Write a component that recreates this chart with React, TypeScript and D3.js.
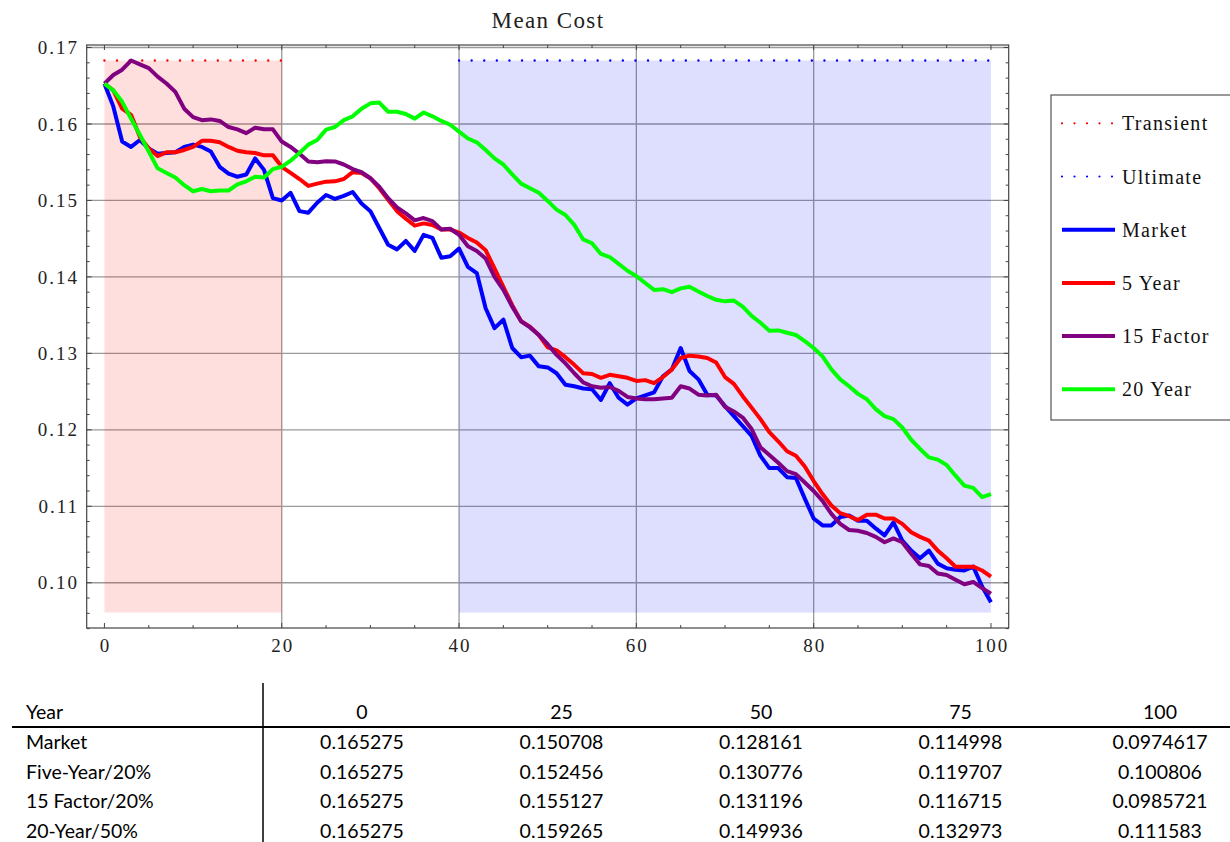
import React from "react";
import * as d3 from "d3";

// Simulation years 0..100 and the mean cost of each strategy per year
const years: number[] = d3.range(0, 101);

const market: number[] = [
  0.165275, 0.1623, 0.1577, 0.157, 0.1579, 0.1568, 0.1561, 0.1562, 0.1563, 0.157,
  0.1573, 0.157, 0.1564, 0.1544, 0.1535, 0.1531, 0.1534, 0.1555, 0.154, 0.1503,
  0.15, 0.151, 0.1486, 0.1484, 0.1497, 0.150708, 0.1502, 0.1506, 0.1511, 0.1496,
  0.1486, 0.1464, 0.1442, 0.1436, 0.1447, 0.1434, 0.1455, 0.1451, 0.1425, 0.1427,
  0.1437, 0.1413, 0.1405, 0.1359, 0.1333, 0.1344, 0.1307, 0.1295, 0.1297, 0.1283,
  0.128161, 0.1274, 0.1259, 0.1257, 0.1254, 0.1253, 0.1239, 0.1261, 0.1242, 0.1233,
  0.1241, 0.1245, 0.1249, 0.127, 0.1279, 0.1307, 0.1277, 0.1266, 0.1246, 0.1245,
  0.1231, 0.1218, 0.1205, 0.1192, 0.1166, 0.114998, 0.115, 0.1138, 0.1137, 0.111,
  0.1084, 0.1075, 0.1075, 0.1086, 0.1088, 0.1081, 0.1081, 0.1071, 0.1062, 0.1079,
  0.1055, 0.1042, 0.1032, 0.1042, 0.1025, 0.1019, 0.1017, 0.1016, 0.1021, 0.0995,
  0.0974617,
];

const fiveYear: number[] = [
  0.165275, 0.1644, 0.162, 0.1612, 0.1583, 0.1568, 0.1558, 0.1563, 0.1563, 0.1566,
  0.157, 0.1578, 0.1578, 0.1576, 0.157, 0.1565, 0.1563, 0.1562, 0.1559, 0.1559,
  0.1544, 0.1536, 0.1528, 0.1519, 0.1522, 0.152456, 0.1525, 0.1528, 0.1537, 0.1536,
  0.1529, 0.1516, 0.1501, 0.1486, 0.1476, 0.1467, 0.147, 0.1468, 0.1462, 0.1462,
  0.1458, 0.1451, 0.1445, 0.1435, 0.1411, 0.1387, 0.1363, 0.1342, 0.1335, 0.1324,
  0.130776, 0.1304, 0.1295, 0.1285, 0.1274, 0.1273, 0.1268, 0.1272, 0.127, 0.1268,
  0.1264, 0.1265, 0.1261, 0.1269, 0.1279, 0.1294, 0.1297, 0.1296, 0.1294, 0.1288,
  0.1269, 0.126, 0.1244, 0.1229, 0.1214, 0.119707, 0.1185, 0.1172, 0.1166, 0.1152,
  0.1133, 0.1116, 0.1101, 0.1091, 0.1087, 0.1082, 0.1089, 0.1089, 0.1084, 0.1084,
  0.1077, 0.1066, 0.106, 0.1055, 0.1042, 0.1032, 0.1021, 0.1021, 0.1021, 0.1016,
  0.100806,
];

const fifteenFactor: number[] = [
  0.165275, 0.1664, 0.1671, 0.1683, 0.1678, 0.1673, 0.1662, 0.1653, 0.1642, 0.162,
  0.1609, 0.1605, 0.1606, 0.1604, 0.1596, 0.1593, 0.1588, 0.1595, 0.1593, 0.1593,
  0.1577, 0.157, 0.1561, 0.1551, 0.155, 0.155127, 0.1551, 0.1547, 0.1541, 0.1537,
  0.1529, 0.1518, 0.1503, 0.1491, 0.1483, 0.1474, 0.1477, 0.1473, 0.1462, 0.1463,
  0.1455, 0.144, 0.1434, 0.1424, 0.14, 0.1383, 0.1361, 0.1342, 0.1334, 0.1324,
  0.131196, 0.1298, 0.1287, 0.1274, 0.1262, 0.1257, 0.1255, 0.1256, 0.1251, 0.1243,
  0.1241, 0.124, 0.124, 0.1241, 0.1242, 0.1257, 0.1254, 0.1246, 0.1245, 0.1246,
  0.123, 0.1224, 0.1216, 0.1201, 0.1177, 0.116715, 0.1157, 0.1146, 0.1142, 0.1131,
  0.112, 0.1107, 0.109, 0.1077, 0.1069, 0.1068, 0.1065, 0.106, 0.1053, 0.1058,
  0.1053, 0.1038, 0.1024, 0.1022, 0.1012, 0.101, 0.1004, 0.0998, 0.1001, 0.0993,
  0.0985721,
];

const twentyYear: number[] = [
  0.165275, 0.1644, 0.1629, 0.1607, 0.1586, 0.1564, 0.1542, 0.1536, 0.153, 0.152,
  0.1512, 0.1515, 0.1512, 0.1513, 0.1513, 0.1521, 0.1525, 0.1531, 0.153, 0.1541,
  0.1544, 0.1552, 0.1562, 0.1573, 0.1579, 0.159265, 0.1596, 0.1605, 0.161, 0.162,
  0.1627, 0.1628, 0.1616, 0.1616, 0.1613, 0.1607, 0.1615, 0.161, 0.1604, 0.1599,
  0.159, 0.1581, 0.1576, 0.1566, 0.1555, 0.1547, 0.1534, 0.1522, 0.1516, 0.151,
  0.149936, 0.1488, 0.1481, 0.1468, 0.1449, 0.1444, 0.143, 0.1426, 0.1417, 0.1408,
  0.1401, 0.1392, 0.1383, 0.1384, 0.138, 0.1385, 0.1387, 0.1381, 0.1375, 0.137,
  0.1368, 0.1369, 0.1361, 0.1349, 0.134, 0.132973, 0.133, 0.1327, 0.1324, 0.1316,
  0.1307, 0.1296, 0.1279, 0.1266, 0.1257, 0.1247, 0.124, 0.1227, 0.1218, 0.1214,
  0.1203, 0.1187, 0.1175, 0.1164, 0.1161, 0.1154, 0.114, 0.1127, 0.1124, 0.1112,
  0.111583,
];

// Transient (years 0-20) and ultimate (years 40-100) periods
const transientSpan: [number, number] = [0, 20];
const ultimateSpan: [number, number] = [40, 100];
const bandLevel = 0.1683;
const bandFloor = 0.0961;

// Axis ticks
const xMajor: number[] = [0, 20, 40, 60, 80, 100];
const yMajor: number[] = [0.1, 0.11, 0.12, 0.13, 0.14, 0.15, 0.16, 0.17];
const yLabels: string[] = ["0.10", "0.11", "0.12", "0.13", "0.14", "0.15", "0.16", "0.17"];
const xGrid: number[] = [20, 40, 60, 80];

// Summary table
const tableYears: number[] = [0, 25, 50, 75, 100];
const tableNames: string[] = ["Market", "Five-Year/20%", "15 Factor/20%", "20-Year/50%"];

const series = [
  { name: "Market", values: market, color: "#0000ff" },
  { name: "5 Year", values: fiveYear, color: "#ff0000" },
  { name: "15 Factor", values: fifteenFactor, color: "#800080" },
  { name: "20 Year", values: twentyYear, color: "#00ff00" },
];

const SERIF = "'Liberation Serif', 'Times New Roman', serif";
const SANS = "Lato, 'Open Sans', sans-serif";

export default function App() {
  const W = 1230;
  const H = 842;
  const frame = { left: 86.7, right: 1008.7, top: 45, bottom: 628 };

  const x = d3.scaleLinear().domain([-2, 102]).range([frame.left, frame.right]);
  const y = d3.scaleLinear().domain([0.09408, 0.17033]).range([frame.bottom, frame.top]);

  const line = d3
    .line<number>()
    .x((_, i) => x(years[i]))
    .y((d) => y(d));

  const yMinor = d3.range(47, 86).map((i) => i * 0.002);
  const xMinor = d3.range(0, 21).map((i) => i * 5);

  const legendItems = [
    { label: "Transient", color: "#ff0000", dotted: true },
    { label: "Ultimate", color: "#0000ff", dotted: true },
    ...series.map((s) => ({ label: s.name, color: s.color, dotted: false })),
  ];

  const fmt = d3.format(".6");
  const colX = d3.scaleLinear().domain([0, tableYears.length - 1]).range([362, 1160]);
  const rowY = (r: number) => 719 + r * 29.8;

  return (
    <div style={{ position: "absolute", left: 0, top: 0 }}>
      <svg width={W} height={H} style={{ display: "block", background: "#fff" }}>
        {/* title */}
        <text
          x={548}
          y={28}
          textAnchor="middle"
          fontFamily={SERIF}
          fontSize={23}
          letterSpacing={1.4}
          fill="#222"
        >
          Mean Cost
        </text>

        {/* grid lines */}
        <g stroke="#9a9a9a" strokeWidth={1.3}>
          {yMajor.map((v) => (
            <line key={"gy" + v} x1={frame.left} x2={frame.right} y1={y(v)} y2={y(v)} />
          ))}
          {xGrid.map((v) => (
            <line key={"gx" + v} x1={x(v)} x2={x(v)} y1={frame.top} y2={frame.bottom} />
          ))}
        </g>

        {/* period shading */}
        <rect
          x={x(transientSpan[0])}
          width={x(transientSpan[1]) - x(transientSpan[0])}
          y={y(bandLevel)}
          height={y(bandFloor) - y(bandLevel)}
          fill="#ff0000"
          fillOpacity={0.13}
        />
        <rect
          x={x(ultimateSpan[0])}
          width={x(ultimateSpan[1]) - x(ultimateSpan[0])}
          y={y(bandLevel)}
          height={y(bandFloor) - y(bandLevel)}
          fill="#0000ff"
          fillOpacity={0.13}
        />
        <line
          x1={x(transientSpan[0])}
          x2={x(transientSpan[1])}
          y1={y(bandLevel)}
          y2={y(bandLevel)}
          stroke="#ff0000"
          strokeWidth={2.4}
          strokeLinecap="round"
          strokeDasharray="0 12.6"
        />
        <line
          x1={x(ultimateSpan[0])}
          x2={x(ultimateSpan[1])}
          y1={y(bandLevel)}
          y2={y(bandLevel)}
          stroke="#0000ff"
          strokeWidth={2.4}
          strokeLinecap="round"
          strokeDasharray="0 12.6"
        />

        {/* series */}
        {series.map((s) => (
          <path
            key={s.name}
            d={line(s.values) || ""}
            fill="none"
            stroke={s.color}
            strokeWidth={4}
            strokeLinejoin="round"
          />
        ))}

        {/* frame and ticks */}
        <rect
          x={frame.left}
          y={frame.top}
          width={frame.right - frame.left}
          height={frame.bottom - frame.top}
          fill="none"
          stroke="#444"
          strokeWidth={1.2}
        />
        <g stroke="#444" strokeWidth={1}>
          {yMinor.map((v, i) => {
            const len = i % 5 === 3 ? 5 : 3;
            return (
              <g key={"ty" + i}>
                <line x1={frame.left} x2={frame.left + len} y1={y(v)} y2={y(v)} />
                <line x1={frame.right} x2={frame.right - len} y1={y(v)} y2={y(v)} />
              </g>
            );
          })}
          {xMinor.map((v) => {
            const len = v % 20 === 0 ? 5 : 3;
            return (
              <g key={"tx" + v}>
                <line x1={x(v)} x2={x(v)} y1={frame.bottom} y2={frame.bottom - len} />
                <line x1={x(v)} x2={x(v)} y1={frame.top} y2={frame.top + len} />
              </g>
            );
          })}
        </g>

        {/* tick labels */}
        <g fontFamily={SERIF} fontSize={19} fill="#222" letterSpacing={2}>
          {yMajor.map((v, i) => (
            <text key={"ly" + v} x={79} y={y(v)} dy="0.35em" textAnchor="end">
              {yLabels[i]}
            </text>
          ))}
          {xMajor.map((v) => (
            <text key={"lx" + v} x={x(v) + 1} y={652} textAnchor="middle">
              {String(v)}
            </text>
          ))}
        </g>

        {/* legend */}
        <rect x={1051} y={95} width={190} height={325} fill="#fff" stroke="#555" strokeWidth={1.2} />
        {legendItems.map((it, i) => {
          const cy = 123.3 + i * 53.2;
          return (
            <g key={it.label}>
              <line
                x1={1062}
                x2={1115}
                y1={cy}
                y2={cy}
                stroke={it.color}
                strokeWidth={it.dotted ? 2.2 : 4}
                strokeLinecap={it.dotted ? "round" : "butt"}
                strokeDasharray={it.dotted ? "0 12.5" : undefined}
              />
              <text
                x={1122}
                y={cy}
                dy="0.35em"
                fontFamily={SERIF}
                fontSize={20}
                letterSpacing={1.3}
                fill="#111"
              >
                {it.label}
              </text>
            </g>
          );
        })}

        {/* summary table */}
        <line x1={263} x2={263} y1={683} y2={842} stroke="#000" strokeWidth={1.5} />
        <line x1={12} x2={1230} y1={727} y2={727} stroke="#000" strokeWidth={2} />
        <g fontFamily={SANS} fontSize={19.5} fill="#000">
          <text x={26} y={rowY(0)}>
            Year
          </text>
          {tableYears.map((yr, c) => (
            <text key={"h" + yr} x={colX(c)} y={rowY(0)} textAnchor="middle">
              {String(yr)}
            </text>
          ))}
          {series.map((s, r) => (
            <g key={"row" + r}>
              <text x={26} y={rowY(r + 1)}>
                {tableNames[r]}
              </text>
              {tableYears.map((yr, c) => (
                <text key={"v" + yr} x={colX(c)} y={rowY(r + 1)} textAnchor="middle">
                  {fmt(s.values[yr])}
                </text>
              ))}
            </g>
          ))}
        </g>
      </svg>
    </div>
  );
}
